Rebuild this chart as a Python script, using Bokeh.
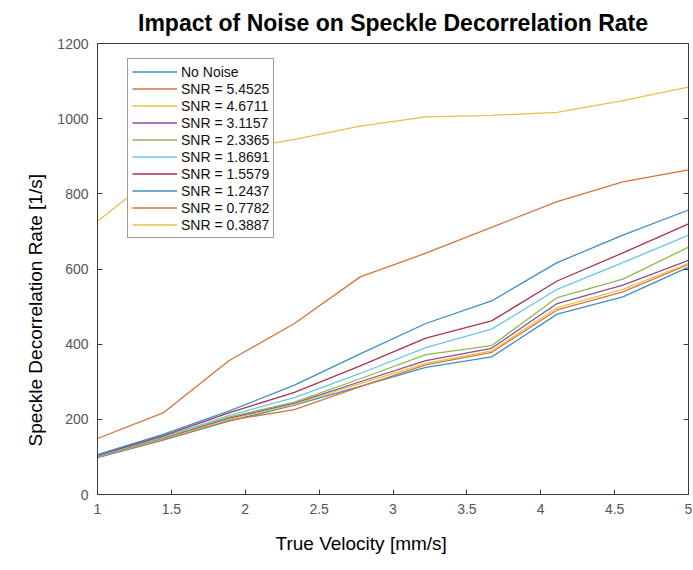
from bokeh.plotting import figure
from bokeh.models import Range1d, FixedTicker, LinearAxis, Title
from bokeh.embed import file_html
from bokeh.resources import INLINE

# ---- data ----
velocity = [1.0, 1.444, 1.889, 2.333, 2.778, 3.222, 3.667, 4.111, 4.556, 5.0]

no_noise   = [98, 145, 195, 238, 288, 338, 366, 480, 526, 605]
snr_5_4525 = [100, 146, 197, 226, 287, 345, 378, 491, 539, 612]
snr_4_6711 = [101, 148, 200, 240, 295, 349, 382, 497, 546, 615]
snr_3_1157 = [102, 150, 203, 243, 300, 356, 389, 508, 557, 623]
snr_2_3365 = [103, 151, 206, 246, 308, 372, 396, 524, 573, 658]
snr_1_8691 = [104, 153, 210, 258, 322, 391, 440, 546, 617, 690]
snr_1_5579 = [105, 156, 217, 272, 342, 416, 462, 568, 643, 720]
snr_1_2437 = [106, 160, 222, 291, 374, 455, 515, 617, 690, 757]
snr_0_7782 = [149, 217, 356, 455, 579, 642, 711, 779, 832, 864]
snr_0_3887 = [727, 865, 915, 945, 980, 1005, 1009, 1017, 1048, 1084]

series_names = ["No Noise", "SNR = 5.4525", "SNR = 4.6711", "SNR = 3.1157",
                "SNR = 2.3365", "SNR = 1.8691", "SNR = 1.5579", "SNR = 1.2437",
                "SNR = 0.7782", "SNR = 0.3887"]
series_values = [no_noise, snr_5_4525, snr_4_6711, snr_3_1157, snr_2_3365,
                 snr_1_8691, snr_1_5579, snr_1_2437, snr_0_7782, snr_0_3887]
colors = ["#3b8fc4", "#d9733a", "#e9c04a", "#87509a", "#8dba52",
          "#6cc5ee", "#a9344f", "#3b8fc4", "#d9733a", "#e9c04a"]

x_ticks = [1, 1.5, 2, 2.5, 3, 3.5, 4, 4.5, 5]
x_tick_labels = ["1", "1.5", "2", "2.5", "3", "3.5", "4", "4.5", "5"]
y_ticks = [0, 200, 400, 600, 800, 1000, 1200]
y_tick_labels = ["0", "200", "400", "600", "800", "1000", "1200"]

FONT = "Liberation Sans"
AXIS_COLOR = "#3a3a3a"
TICK_LABEL_COLOR = "#555555"

p = figure(width=693, height=570, output_backend="svg", toolbar_location=None,
           x_range=Range1d(1, 5), y_range=Range1d(0, 1200),
           min_border_left=97, min_border_right=5, min_border_top=42,
           min_border_bottom=76,
           title="Impact of Noise on Speckle Decorrelation Rate")

p.title.text_font = FONT
p.title.text_font_size = "23px"
p.title.text_font_style = "bold"
p.title.text_color = "#000000"
p.title.align = "center"
p.title.standoff = 15

p.grid.visible = False
p.outline_line_color = AXIS_COLOR
p.outline_line_width = 1
p.background_fill_color = "white"
p.border_fill_color = "white"

for ax, ticks, labels in ((p.xaxis[0], x_ticks, x_tick_labels),
                          (p.yaxis[0], y_ticks, y_tick_labels)):
    ax.ticker = FixedTicker(ticks=ticks)
    ax.major_label_overrides = {t: l for t, l in zip(ticks, labels)}
    ax.major_tick_in = 5
    ax.major_tick_out = 0
    ax.minor_tick_line_color = None
    ax.axis_line_color = AXIS_COLOR
    ax.major_tick_line_color = AXIS_COLOR
    ax.major_label_text_font = FONT
    ax.major_label_text_font_size = "14px"
    ax.major_label_text_color = TICK_LABEL_COLOR
    ax.major_label_standoff = 9

# mirrored tick marks on the right (no labels)
right_ax = LinearAxis(ticker=FixedTicker(ticks=y_ticks), major_tick_in=5, major_tick_out=0,
                      minor_tick_line_color=None, axis_line_color=AXIS_COLOR,
                      major_tick_line_color=AXIS_COLOR, major_label_text_font_size="1px",
                      major_label_text_color=None, major_label_standoff=0)
p.add_layout(right_ax, "right")

for name, vals, col in zip(series_names, series_values, colors):
    p.line(velocity, vals, line_color=col, line_width=1.3, legend_label=name)

# axis titles (as side titles so they can be offset like the reference)
xlab = Title(text="True Velocity [mm/s]", align="left", offset=178,
             text_font=FONT, text_font_size="19px", text_font_style="normal",
             text_color="#000000", standoff=29)
p.add_layout(xlab, "below")
ylab = Title(text="Speckle Decorrelation Rate  [1/s]", align="left", offset=48,
             text_font=FONT, text_font_size="19px", text_font_style="normal",
             text_color="#000000", standoff=17)
p.add_layout(ylab, "left")

lg = p.legend[0]
lg.location = (30, 256)
lg.border_line_color = AXIS_COLOR
lg.border_line_width = 1
lg.background_fill_color = "white"
lg.background_fill_alpha = 1
lg.label_text_font = FONT
lg.label_text_font_size = "14px"
lg.label_text_color = "#111111"
lg.glyph_width = 45
lg.glyph_height = 17
lg.label_height = 17
lg.label_standoff = 4
lg.spacing = 0
lg.padding = 4
lg.margin = 0

open("out.html", "w").write(file_html(p, INLINE))
